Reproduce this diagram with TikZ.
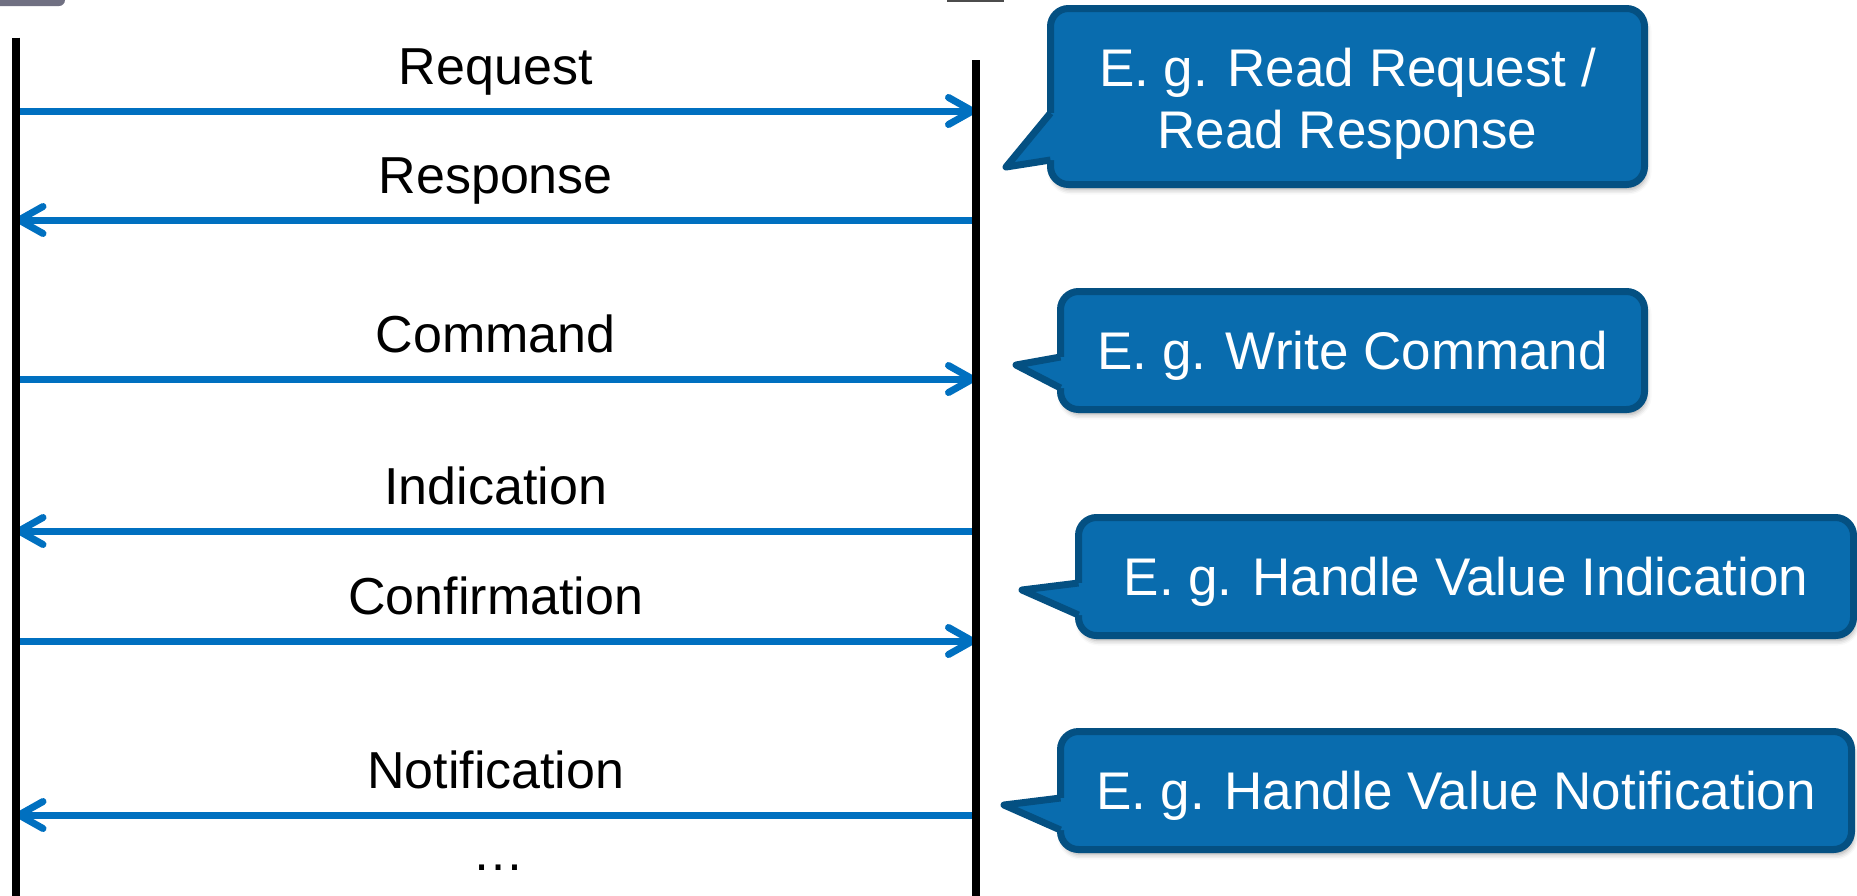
\documentclass[tikz,border=0pt]{standalone}
\usepackage{fontspec}
\setmainfont{Liberation Sans}
\usetikzlibrary{arrows.meta,shadows.blur}
\definecolor{msgblue}{RGB}{0,112,192}
\definecolor{notefill}{RGB}{9,108,174}
\definecolor{noteline}{RGB}{4,80,130}
\definecolor{tabgray}{RGB}{112,112,130}
\begin{document}
\begin{tikzpicture}[x=1pt,y=-1pt,
  lifeline/.style={line width=8pt},
  msg/.style={msgblue,line width=7pt,-{Straight Barb[length=24pt,width=27pt,round]}},
  lbl/.style={midway,anchor=base,yshift=27pt,text=black,font=\fontsize{52}{62}\selectfont},
  note/.style={draw=noteline,fill=notefill,line width=7pt,rounded corners=18pt,
    text=white,font=\fontsize{53}{62}\selectfont,align=center,inner sep=0pt,
    blur shadow={shadow xshift=2pt,shadow yshift=-5pt,shadow blur radius=5pt,shadow opacity=35}},
  oneline/.style={text height=38pt,text depth=0pt},
  tail/.style={draw=noteline,line width=7pt,line join=round}]
\useasboundingbox (0,0) rectangle (1857,895);
\clip (0,0) rectangle (1857,895);

\fill[tabgray,rounded corners=6pt] (-10,-10) rectangle (65,6);
\fill[gray!60!black] (947,0) rectangle (1004,1.5);

\coordinate (cli) at (15.5,37.5);
\coordinate (srv) at (976,60);

% messages
\draw[msg] (cli |- 0,111) -- (srv |- 0,111) node[lbl] (req) {Request};
\draw[msg] (srv |- 0,220) -- (cli |- 0,220) node[lbl] (rsp) {Response};
\draw[msg] (cli |- 0,379) -- (srv |- 0,379) node[lbl] (cmd) {Command};
\draw[msg] (srv |- 0,531) -- (cli |- 0,531) node[lbl] (ind) {Indication};
\draw[msg] (cli |- 0,641) -- (srv |- 0,641) node[lbl] (cnf) {Confirmation};
\draw[msg] (srv |- 0,815) -- (cli |- 0,815) node[lbl] (ntf) {Notification};
\node[anchor=base,font=\fontsize{52}{62}\selectfont] (more) at (498,870) {…};

\draw[lifeline] (cli) -- (cli |- 0,900);
\draw[lifeline] (srv) -- (srv |- 0,900);

% notes
\node[note,minimum width=594pt,minimum height=176pt] (rr) at (1347.5,96.5) {\rule{0pt}{53pt}E. g. Read Request /\\Read Response};
\coordinate (rrtip) at (1006,167);
\fill[notefill] (rrtip) -- (1050.5,113) -- (1058,113) -- (1058,160) -- (1050.5,160) -- cycle;
\draw[tail] (1050.5,113) -- (rrtip) -- (1050.5,160);

\node[note,oneline,minimum width=584pt,minimum height=118pt] (wc) at (1352.5,350.5) {E. g. Write Command};
\coordinate (wctip) at (1016,365);
\fill[notefill] (wctip) -- (1060.5,357) -- (1068,357) -- (1068,388) -- (1060.5,388) -- cycle;
\draw[tail] (1060.5,357) -- (wctip) -- (1060.5,388);

\node[note,oneline,minimum width=775pt,minimum height=118pt] (hvi) at (1466,576.5) {E. g. Handle Value Indication};
\coordinate (hvitip) at (1022,590);
\fill[notefill] (hvitip) -- (1078.5,583) -- (1086,583) -- (1086,615) -- (1078.5,615) -- cycle;
\draw[tail] (1078.5,583) -- (hvitip) -- (1078.5,615);

\node[note,oneline,minimum width=791pt,minimum height=118pt] (hvn) at (1456,790.5) {E. g. Handle Value Notification};
\coordinate (hvntip) at (1004,805);
\fill[notefill] (hvntip) -- (1060.5,798) -- (1068,798) -- (1068,830) -- (1060.5,830) -- cycle;
\draw[tail] (1060.5,798) -- (hvntip) -- (1060.5,830);
\end{tikzpicture}
\end{document}
